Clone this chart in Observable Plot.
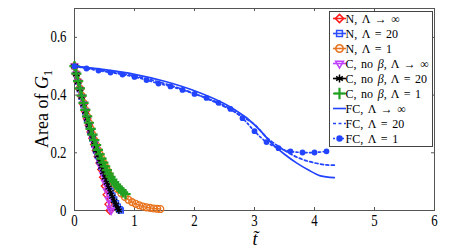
<!DOCTYPE html>
<html><head><meta charset="utf-8">
<script src="https://cdn.jsdelivr.net/npm/d3@7"></script>
<script src="https://cdn.jsdelivr.net/npm/@observablehq/plot@0.6"></script>
<style>
body{margin:0;background:#fff;}
#chart{position:relative;width:464px;height:249px;}
</style></head><body><div id="chart"></div>
<script>
const xTicks = [0,1,2,3,4,5,6];
const yTicks = [0,0.2,0.4,0.6];

// N, Λ → ∞
const nInfT = [0,0.03,0.06,0.09,0.12,0.15,0.18,0.21,0.24,0.27,0.30,0.33,0.36,0.39,0.42,0.45,0.48,0.51,0.54,0.57,0.59];
const nInfV = [0.5,0.473,0.446,0.42,0.394,0.368,0.343,0.318,0.295,0.272,0.25,0.229,0.208,0.187,0.165,0.142,0.115,0.085,0.055,0.022,0.0];
// N, Λ = 20
const n20T = [0,0.03,0.06,0.09,0.12,0.15,0.18,0.21,0.24,0.27,0.30,0.33,0.36,0.39,0.42,0.45,0.48,0.51,0.54,0.57,0.60,0.63,0.66,0.69,0.72,0.75,0.77];
const n20V = [0.5,0.473,0.446,0.42,0.394,0.368,0.343,0.318,0.295,0.272,0.25,0.229,0.208,0.19,0.171,0.152,0.133,0.115,0.098,0.082,0.067,0.052,0.038,0.025,0.013,0.004,0.0];
// N, Λ = 1
const n1T = [0,0.03,0.06,0.09,0.12,0.15,0.18,0.21,0.24,0.27,0.30,0.33,0.36,0.39,0.42,0.45,0.48,0.51,0.54,0.57,0.60,0.66,0.72,0.78,0.84,0.90,0.96,1.02,1.08,1.14,1.20,1.26,1.32,1.38,1.43];
const n1V = [0.5,0.474,0.448,0.423,0.398,0.373,0.349,0.326,0.304,0.283,0.263,0.244,0.227,0.21,0.195,0.18,0.166,0.153,0.14,0.126,0.113,0.092,0.074,0.059,0.047,0.037,0.029,0.023,0.018,0.014,0.011,0.009,0.007,0.006,0.005];
// C, no β, Λ → ∞
const cInfT = [0,0.03,0.06,0.09,0.12,0.15,0.18,0.21,0.24,0.27,0.30,0.33,0.36,0.39,0.42,0.45,0.48,0.51,0.54,0.57,0.60,0.61];
const cInfV = [0.5,0.472,0.445,0.419,0.393,0.368,0.344,0.32,0.297,0.275,0.253,0.232,0.211,0.19,0.17,0.148,0.124,0.097,0.068,0.038,0.008,0.0];
// C, no β, Λ = 20
const c20T = [0,0.03,0.06,0.09,0.12,0.15,0.18,0.21,0.24,0.27,0.30,0.33,0.36,0.39,0.42,0.45,0.48,0.51,0.54,0.57,0.60,0.63,0.66,0.69,0.72,0.74];
const c20V = [0.5,0.473,0.446,0.42,0.394,0.368,0.343,0.318,0.295,0.272,0.25,0.229,0.208,0.19,0.171,0.152,0.133,0.115,0.097,0.08,0.064,0.048,0.033,0.02,0.008,0.0];
// C, no β, Λ = 1
const c1T = [0,0.03,0.06,0.09,0.12,0.15,0.18,0.21,0.24,0.27,0.30,0.33,0.36,0.39,0.42,0.45,0.48,0.51,0.54,0.57,0.60,0.63,0.66,0.69,0.72,0.75,0.78,0.81,0.85];
const c1V = [0.5,0.474,0.448,0.423,0.398,0.373,0.349,0.326,0.304,0.283,0.263,0.244,0.227,0.21,0.195,0.18,0.166,0.153,0.14,0.128,0.117,0.107,0.098,0.09,0.083,0.076,0.069,0.063,0.057];
// FC, Λ → ∞
const fcInfT = [0,0.5,1,1.5,2,2.5,2.7,2.9,3.1,3.3,3.5,3.7,3.9,4.1,4.33];
const fcInfV = [0.5,0.488,0.472,0.448,0.415,0.37,0.345,0.316,0.276,0.23,0.195,0.165,0.14,0.12,0.114];
// FC, Λ = 20
const fc20T = [0,0.5,1,1.5,2,2.5,2.8,3.0,3.2,3.4,3.6,3.8,4.0,4.2,4.33];
const fc20V = [0.5,0.485,0.466,0.44,0.405,0.36,0.325,0.298,0.254,0.222,0.196,0.177,0.165,0.158,0.157];
// FC, Λ = 1
const fc1T = [0,0.2,0.4,0.6,0.8,1.0,1.2,1.4,1.6,1.8,2.0,2.2,2.4,2.6,2.8,3.0,3.2,3.4,3.6,3.8,4.0,4.2];
const fc1V = [0.5,0.492,0.485,0.478,0.471,0.463,0.452,0.44,0.43,0.418,0.404,0.39,0.373,0.352,0.32,0.275,0.237,0.216,0.205,0.201,0.201,0.205];

const seriesNames = ["N, Λ → ∞","N, Λ = 20","N, Λ = 1","C, no β, Λ → ∞","C, no β, Λ = 20","C, no β, Λ = 1","FC, Λ → ∞","FC, Λ = 20","FC, Λ = 1"];
const seriesT = [nInfT,n20T,n1T,cInfT,c20T,c1T,fcInfT,fc20T,fc1T];
const seriesV = [nInfV,n20V,n1V,cInfV,c20V,c1V,fcInfV,fc20V,fc1V];
const colors = ["#ff1a1a","#2b4dff","#e8731e","#c040ff","#000000","#22a022","#2244ff","#2244ff","#2244ff"];
const symbols = ["diamond2","square2","circle","triangle2","asterisk","plus",null,null,"circle"];
const rotations = [0,0,0,180,0,0,0,0,0];
const dashes = [null,null,null,null,null,null,null,"3,2.5","2,2.5"];
const symFill = [false,false,false,false,false,false,false,false,true];

const series = seriesNames.map((name,i)=>seriesT[i].map((t,j)=>({t, v: seriesV[i][j], name})));

const marks = [
  Plot.frame({stroke:"#555", strokeWidth:1}),
  Plot.tickX(xTicks,{x:d=>d, insetTop:199, stroke:"#555"}),
  Plot.tickX(xTicks,{x:d=>d, insetBottom:199, stroke:"#555"}),
  Plot.tickY(yTicks,{y:d=>d, insetRight:357, stroke:"#555"}),
  Plot.tickY(yTicks,{y:d=>d, insetLeft:357, stroke:"#555"}),
  Plot.axisX({ticks:xTicks, tickSize:0, tickPadding:4, label:null, tickFormat:d=>String(d)}),
  Plot.axisY({ticks:yTicks, tickSize:0, tickPadding:8, label:null, tickFormat:d=>d===0?"0":d3.format(".1f")(d)})
];
series.forEach((data,i)=>{
  marks.push(Plot.line(data,{x:"t", y:"v", stroke:colors[i], strokeWidth: i>=6?1.7:1.4,
    strokeDasharray: dashes[i]||undefined, curve: i>=6?"catmull-rom":"linear"}));
  if (symbols[i]) {
    marks.push(Plot.dot(data,{x:"t", y:"v", symbol: ()=>symbols[i], r: i===8?2.9:3.4, rotate: rotations[i],
      stroke: symFill[i]?"none":colors[i], fill: symFill[i]?colors[i]:"none",
      strokeWidth: symbols[i]==="plus"?2.2:1.3}));
  }
});

const chart = Plot.plot({
  width:464, height:249,
  marginLeft:74, marginRight:30, marginTop:8, marginBottom:39,
  x:{domain:[0,6]},
  y:{domain:[0,0.7]},
  symbol:{type:"identity"},
  style:{fontFamily:"'Liberation Serif', serif", fontSize:"16px", color:"#000", background:"#fff"},
  marks
});
document.getElementById("chart").appendChild(chart);

const svg = d3.select(chart);
svg.selectAll("g[aria-label='x-axis tick label'] text, g[aria-label='y-axis tick label'] text").each(function(){
  const el = d3.select(this);
  const tr = el.attr("transform") || "";
  el.attr("transform", tr + " scale(0.8,1)");
});

// axis titles
svg.append("text").attr("transform","translate(48,109) rotate(-90)")
  .attr("text-anchor","middle").style("font-family","'Liberation Serif', serif").style("font-size","18px")
  .call(t=>{t.append("tspan").text("Area of ");t.append("tspan").attr("font-style","italic").text("G");t.append("tspan").attr("font-size","12px").attr("dy","4").text("1");});
svg.append("text").attr("x",255).attr("y",245).attr("text-anchor","middle")
  .style("font-family","'Liberation Serif', serif").style("font-size","18px").style("font-style","italic").text("t\u0303");

// legend
const lg = svg.append("g").attr("text-anchor","start");
lg.append("rect").attr("x",329.5).attr("y",11.5).attr("width",103).attr("height",135).attr("fill","#fff").attr("stroke","#444");
const symMap = {diamond2:d3.symbolDiamond2, square2:d3.symbolSquare2, circle:d3.symbolCircle, triangle2:d3.symbolTriangle2, asterisk:d3.symbolAsterisk, plus:d3.symbolPlus};
seriesNames.forEach((name,i)=>{
  const y = 18.5 + i*15;
  const g = lg.append("g");
  g.append("line").attr("x1",333).attr("x2",346).attr("y1",y).attr("y2",y)
    .attr("stroke",colors[i]).attr("stroke-width",1.6).attr("stroke-dasharray",dashes[i]);
  if (symbols[i]) {
    const r = i===8?2.9:3.4;
    g.append("path").attr("d", d3.symbol(symMap[symbols[i]], Math.PI*r*r*1.2)())
      .attr("transform",`translate(339.5,${y}) rotate(${rotations[i]})`)
      .attr("fill", symFill[i]?colors[i]:"none").attr("stroke", symFill[i]?"none":colors[i])
      .attr("stroke-width", symbols[i]==="plus"?2.2:1.5);
  }
  const parts = name.split("β");
  const tx = g.append("text").attr("x",345.5).attr("y",y+4).attr("text-anchor","start")
    .style("font-family","'Liberation Serif', serif").style("font-size","12px").style("word-spacing","1.6px");
  tx.append("tspan").text(parts[0]);
  if (parts.length>1){ tx.append("tspan").attr("font-style","italic").text("β"); tx.append("tspan").text(parts[1]); }
});
</script></body></html>
